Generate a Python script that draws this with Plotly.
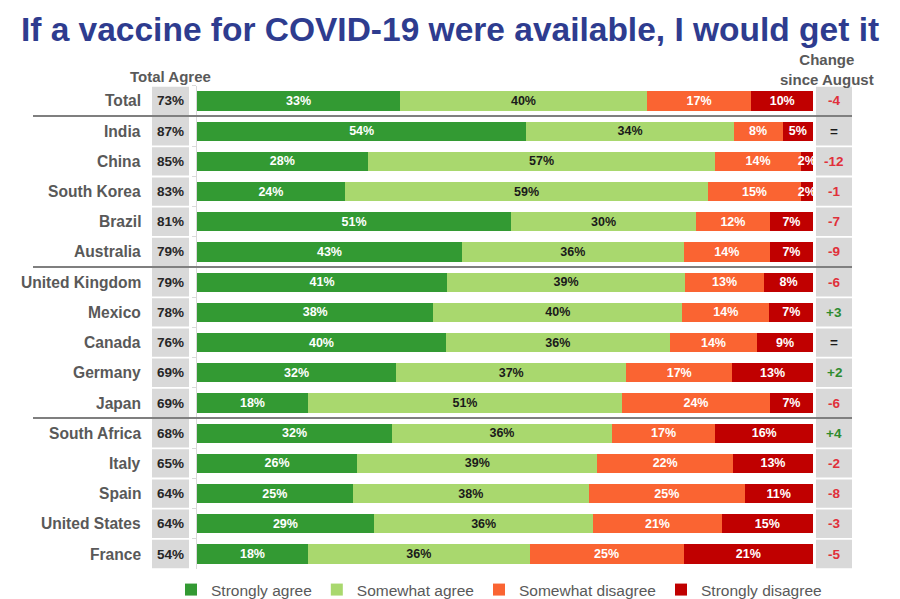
import plotly.graph_objects as go

countries = ["Total", "India", "China", "South Korea", "Brazil", "Australia",
             "United Kingdom", "Mexico", "Canada", "Germany", "Japan",
             "South Africa", "Italy", "Spain", "United States", "France"]
total_agree = [73, 87, 85, 83, 81, 79, 79, 78, 76, 69, 69, 68, 65, 64, 64, 54]
strongly_agree = [33, 54, 28, 24, 51, 43, 41, 38, 40, 32, 18, 32, 26, 25, 29, 18]
somewhat_agree = [40, 34, 57, 59, 30, 36, 39, 40, 36, 37, 51, 36, 39, 38, 36, 36]
somewhat_disagree = [17, 8, 14, 15, 12, 14, 13, 14, 14, 17, 24, 17, 22, 25, 21, 25]
strongly_disagree = [10, 5, 2, 2, 7, 7, 8, 7, 9, 13, 7, 16, 13, 11, 15, 21]
change = ["-4", "=", "-12", "-1", "-7", "-9", "-6", "+3", "=", "+2", "-6",
          "+4", "-2", "-8", "-3", "-5"]
group_breaks = ["Total", "Australia", "Japan"]

series = [
    ("Strongly agree", strongly_agree, "#339A33", "white"),
    ("Somewhat agree", somewhat_agree, "#A9D86E", "#1a1a1a"),
    ("Somewhat disagree", somewhat_disagree, "#FA6432", "white"),
    ("Strongly disagree", strongly_disagree, "#C00000", "white"),
]

FONT = "Liberation Sans, Arial, sans-serif"
OFF = 8          # page body margin
W, H = 892, 599


def px(x):
    return (x - OFF) / W


def py(y):
    return 1 - (y - OFF) / H


fig = go.Figure()
for name, vals, color, tcolor in series:
    fig.add_trace(go.Bar(
        y=countries, x=vals, name=name, orientation="h",
        marker=dict(color=color, line=dict(width=0)),
        text=[f"{v}%" for v in vals], textposition="inside", textangle=0,
        insidetextanchor="middle", constraintext="none",
        textfont=dict(family=FONT, size=12.5, color=tcolor, weight="bold"),
        hovertemplate="%{y}: " + name + " %{text}<extra></extra>",
    ))

y_top, y_bot = 85.9, 569.1
fig.update_layout(
    width=W, height=H, barmode="stack", barnorm="percent", bargap=0.37,
    margin=dict(l=0, r=0, t=0, b=0),
    plot_bgcolor="white", paper_bgcolor="white",
    title=dict(text="<b>If a vaccine for COVID-19 were available, I would get it</b>",
               x=px(450), xanchor="center", y=py(29), yanchor="middle",
               font=dict(family=FONT, size=33.5, color="#2E3C8F")),
    xaxis=dict(domain=[px(197), px(813)], range=[0, 100], showticklabels=False,
               showgrid=False, zeroline=False, fixedrange=True),
    yaxis=dict(domain=[py(y_bot), py(y_top)], type="category",
               categoryorder="array", categoryarray=countries,
               range=[len(countries) - 0.5, -0.5], showticklabels=False,
               showgrid=False, zeroline=False, showline=True,
               linecolor="#d9d9d9", linewidth=1, ticks="outside",
               tickson="boundaries", ticklen=4, tickcolor="#d9d9d9"),
    legend=dict(orientation="h", x=px(499), xanchor="center", y=0,
                yanchor="bottom", font=dict(family=FONT, size=15.5, color="#595959"),
                traceorder="normal", itemclick=False),
)

shapes = []
annotations = []
for i, c in enumerate(countries):
    for (a, b) in [(152, 189), (816, 852)]:
        shapes.append(dict(type="rect", xref="paper", yref="y",
                           x0=px(a), x1=px(b), y0=i - 0.5 + 0.03, y1=i + 0.5 - 0.03,
                           fillcolor="#D9D9D9", line=dict(width=0), layer="below"))
    annotations.append(dict(xref="paper", yref="y", x=px(143), y=c, text=f"<b>{c}</b>",
                            xanchor="right", yanchor="middle", showarrow=False,
                            font=dict(family=FONT, size=15.6, color="#595959")))
    annotations.append(dict(xref="paper", yref="y", x=px(170.5), y=c,
                            text=f"<b>{total_agree[i]}%</b>", xanchor="center",
                            yanchor="middle", showarrow=False,
                            font=dict(family=FONT, size=13.5, color="#262626")))
    ch = change[i]
    ccol = "#E0303A" if ch.startswith("-") else ("#2E8B2E" if ch.startswith("+") else "#1a1a1a")
    annotations.append(dict(xref="paper", yref="y", x=px(834), y=c,
                            text=f"<b>{ch}</b>", xanchor="center", yanchor="middle",
                            showarrow=False, font=dict(family=FONT, size=13.5, color=ccol)))

for g in group_breaks:
    i = countries.index(g)
    shapes.append(dict(type="line", xref="paper", yref="y", x0=px(33), x1=px(852),
                       y0=i + 0.5, y1=i + 0.5, line=dict(color="#7F7F7F", width=2),
                       layer="above"))

annotations.append(dict(xref="paper", yref="paper", x=px(170), y=py(76),
                        text="<b>Total Agree</b>", xanchor="center", yanchor="middle",
                        showarrow=False, font=dict(family=FONT, size=15, color="#595959")))
annotations.append(dict(xref="paper", yref="paper", x=px(827), y=py(69),
                        text="<b>Change<br>since August</b>", xanchor="center",
                        yanchor="middle", showarrow=False,
                        font=dict(family=FONT, size=15, color="#595959")))

fig.update_layout(shapes=shapes, annotations=annotations)
fig.write_html("out.html")
